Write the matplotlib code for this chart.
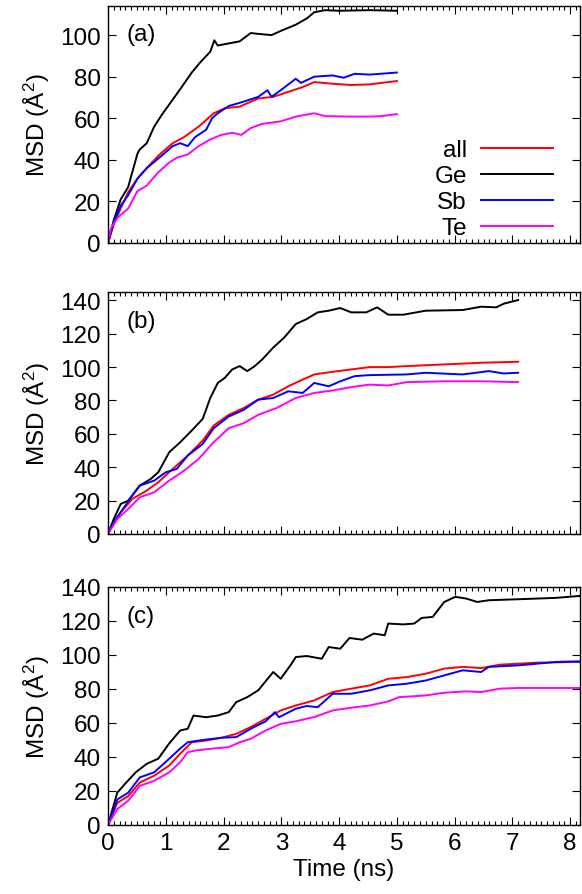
import matplotlib
matplotlib.use("Agg")
import matplotlib.pyplot as plt
from matplotlib.ticker import MultipleLocator

plt.rcParams['font.family'] = ['Liberation Sans', 'DejaVu Sans']
plt.rcParams['mathtext.fontset'] = 'custom'
plt.rcParams['mathtext.rm'] = 'Liberation Sans'
plt.rcParams['mathtext.it'] = 'Liberation Sans:italic'

series_names = ["all", "Ge", "Sb", "Te"]
colors = ["#ff0000", "#000000", "#0000ff", "#ff00ff"]

# ---------------- panel (a) ----------------
a_all_t = [0, 0.1, 0.22, 0.35, 0.51, 0.67, 0.87, 1.12, 1.32, 1.57, 1.83, 2.02, 2.28, 2.6, 2.86, 3.12, 3.37, 3.57, 3.89, 4.21, 4.53, 5.0]
a_all_y = [0, 9, 16.6, 24.5, 31, 36, 42, 48, 51, 56, 62.4, 64.8, 65.6, 69.5, 70.3, 72.7, 75, 77.4, 76.6, 76, 76.3, 77.9]
a_ge_t = [0, 0.1, 0.22, 0.35, 0.51, 0.55, 0.67, 0.8, 0.93, 1.12, 1.25, 1.45, 1.6, 1.77, 1.84, 1.9, 2.09, 2.28, 2.47, 2.6, 2.83, 2.99, 3.25, 3.44, 3.57, 3.76, 4.0, 4.53, 5.0]
a_ge_y = [0, 11, 21, 27, 43, 45, 48, 56, 61.6, 69, 74, 82, 87, 92, 97.5, 95, 96, 97, 101, 100.6, 100, 102, 105, 108, 111, 112, 111.7, 112, 111.7]
a_sb_t = [0, 0.1, 0.22, 0.35, 0.51, 0.67, 0.87, 1.12, 1.25, 1.38, 1.51, 1.7, 1.8, 1.9, 2.09, 2.35, 2.6, 2.76, 2.83, 2.99, 3.25, 3.34, 3.57, 3.89, 4.08, 4.27, 4.53, 5.0]
a_sb_y = [0, 10, 18, 23, 31, 36, 40.6, 46.6, 48, 46.6, 51, 54.5, 60, 62.4, 65.9, 68, 70.3, 73.5, 70.3, 73.5, 79, 77, 80, 80.6, 79.5, 81.4, 81, 82]
a_te_t = [0, 0.05, 0.16, 0.35, 0.51, 0.67, 0.87, 1.06, 1.19, 1.38, 1.57, 1.77, 1.96, 2.15, 2.31, 2.47, 2.67, 2.99, 3.25, 3.57, 3.76, 4.21, 4.53, 4.72, 5.0]
a_te_y = [0, 7, 12, 16.6, 25, 27.6, 34, 38.7, 41, 42.6, 46.6, 49.8, 52, 53, 52, 55.3, 57.3, 58.5, 60.8, 62.4, 61, 60.8, 60.8, 61, 62]

# ---------------- panel (b) ----------------
b_all_t = [0, 0.1, 0.22, 0.42, 0.67, 0.87, 1.12, 1.38, 1.64, 1.83, 2.09, 2.35, 2.6, 2.86, 3.12, 3.37, 3.57, 3.89, 4.21, 4.53, 4.85, 5.17, 5.82, 6.46, 7.1]
b_all_y = [0, 7, 13, 21, 26, 31, 39, 47, 56, 65, 71.4, 75.5, 80.5, 83.5, 88.5, 92.5, 95.6, 97.2, 98.6, 100, 100, 100.6, 101.6, 102.6, 103.2]
b_ge_t = [0, 0.1, 0.22, 0.35, 0.55, 0.74, 0.87, 1.06, 1.25, 1.45, 1.64, 1.77, 1.9, 2.02, 2.15, 2.28, 2.41, 2.54, 2.67, 2.86, 3.05, 3.25, 3.44, 3.63, 3.82, 4.02, 4.21, 4.47, 4.66, 4.85, 5.11, 5.5, 6.14, 6.46, 6.72, 6.85, 7.1]
b_ge_y = [0, 9, 18, 20, 29, 33, 37, 49, 55, 62, 69, 81.5, 90.5, 93.5, 98.6, 100.6, 97.6, 100.6, 104.6, 111.7, 117.7, 125.8, 128.8, 132.8, 133.8, 135.4, 132.8, 132.8, 135.8, 131.4, 131.4, 133.8, 134.2, 136.2, 135.8, 138, 140.2]
b_sb_t = [0, 0.1, 0.22, 0.42, 0.55, 0.8, 1.0, 1.19, 1.38, 1.64, 1.83, 2.09, 2.35, 2.6, 2.86, 3.12, 3.37, 3.57, 3.82, 4.02, 4.27, 4.53, 5.17, 5.5, 6.14, 6.59, 6.85, 7.1]
b_sb_y = [0, 7, 13, 23, 29, 32, 37, 39, 47, 54, 63.4, 70.4, 74.4, 80.5, 81.5, 85.5, 84.5, 90.5, 88.5, 91.5, 94.6, 95.2, 95.6, 96.6, 95.6, 97.6, 96.2, 96.6]
b_te_t = [0, 0.16, 0.35, 0.55, 0.8, 1.06, 1.32, 1.57, 1.83, 2.09, 2.35, 2.6, 2.92, 3.25, 3.57, 3.89, 4.21, 4.53, 4.85, 5.17, 5.82, 6.46, 7.1]
b_te_y = [0, 9, 15, 22, 25, 32, 38, 45, 55, 63.4, 66.4, 71.4, 75.5, 81.5, 84.5, 86, 88, 89.5, 89, 91, 91.5, 91.5, 91]

# ---------------- panel (c) ----------------
c_all_t = [0, 0.16, 0.35, 0.55, 0.8, 1.06, 1.25, 1.45, 1.7, 1.96, 2.22, 2.47, 2.73, 2.99, 3.25, 3.57, 3.89, 4.21, 4.53, 4.85, 5.17, 5.5, 5.82, 6.14, 6.46, 6.78, 7.1, 7.43, 8.18]
c_all_y = [0, 13, 17, 25, 29, 35, 42, 48.7, 49.7, 51.3, 53.6, 57.6, 62.5, 67.4, 70.3, 73.3, 78.2, 80.2, 82.1, 86, 87, 89, 92, 93, 92.3, 94.3, 94.9, 95.5, 95.9]
c_ge_t = [0, 0.16, 0.29, 0.48, 0.67, 0.87, 1.06, 1.25, 1.38, 1.48, 1.7, 1.9, 2.09, 2.22, 2.41, 2.6, 2.86, 2.99, 3.18, 3.25, 3.44, 3.7, 3.82, 4.02, 4.18, 4.4, 4.6, 4.79, 4.85, 5.11, 5.3, 5.43, 5.62, 5.82, 6.01, 6.2, 6.39, 6.59, 7.1, 7.43, 7.75, 8.18]
c_ge_y = [0, 19, 24, 31, 36, 39, 48, 55.6, 56.6, 64.4, 63.4, 64.4, 66.4, 72.3, 75.2, 79.2, 90, 86, 95, 98.8, 99.4, 97.8, 104.7, 103.7, 110, 109, 112.6, 111.6, 118.5, 118, 118.5, 121.8, 122.4, 131.2, 134.2, 133.2, 131.2, 132.2, 132.8, 133.2, 133.6, 134.8]
c_sb_t = [0, 0.16, 0.35, 0.55, 0.8, 1.06, 1.25, 1.38, 1.64, 1.96, 2.22, 2.47, 2.73, 2.89, 2.96, 3.25, 3.44, 3.63, 3.89, 4.21, 4.53, 4.85, 5.17, 5.5, 5.82, 6.14, 6.46, 6.59, 7.1, 7.43, 7.75, 8.18]
c_sb_y = [0, 15, 19, 28, 31, 39, 45, 48.7, 50, 51.3, 51.7, 56.6, 61, 66.4, 63.4, 68.4, 70, 69.3, 77.2, 77.2, 79.2, 82.1, 83.1, 85, 88, 91, 90, 93, 93.9, 94.9, 95.9, 96.3]
c_te_t = [0, 0.16, 0.35, 0.55, 0.8, 1.06, 1.25, 1.38, 1.51, 1.77, 2.09, 2.28, 2.47, 2.73, 2.99, 3.25, 3.57, 3.89, 4.21, 4.53, 4.85, 5.04, 5.5, 5.82, 6.2, 6.46, 6.78, 7.1, 8.18]
c_te_y = [0, 9.4, 14.3, 23, 26, 31, 37, 42.8, 43.8, 44.8, 45.8, 48.7, 50.7, 55.6, 59.5, 61, 63.5, 67.4, 69, 70.3, 72.7, 75.2, 76.2, 77.8, 78.6, 78.2, 80.2, 80.6, 80.6]

panels = [
    ("(a)", [(a_all_t, a_all_y), (a_ge_t, a_ge_y), (a_sb_t, a_sb_y), (a_te_t, a_te_y)], 114, [0, 20, 40, 60, 80, 100]),
    ("(b)", [(b_all_t, b_all_y), (b_ge_t, b_ge_y), (b_sb_t, b_sb_y), (b_te_t, b_te_y)], 145, [0, 20, 40, 60, 80, 100, 120, 140]),
    ("(c)", [(c_all_t, c_all_y), (c_ge_t, c_ge_y), (c_sb_t, c_sb_y), (c_te_t, c_te_y)], 140, [0, 20, 40, 60, 80, 100, 120, 140]),
]

FS = 17.5
W, H = 582, 895
fig = plt.figure(figsize=(W / 100, H / 100), dpi=100)
boxes = [(7, 244), (293, 535), (588, 826)]
left_px, right_px = 108, 580

for i, ((label, data, ymax, yticks), (top, bot)) in enumerate(zip(panels, boxes)):
    ax = fig.add_axes([left_px / W, 1 - bot / H, (right_px - left_px) / W, (bot - top) / H])
    for (t, y), name, c in zip(data, series_names, colors):
        ax.plot(t, y, color=c, lw=1.4, label=name)
    ax.set_xlim(0, 8.17)
    ax.set_ylim(0, ymax)
    ax.set_yticks(yticks)
    ax.xaxis.set_major_locator(MultipleLocator(1))
    ax.xaxis.set_minor_locator(MultipleLocator(0.1))
    ax.tick_params(axis='both', which='both', direction='in', top=True, right=True, labelsize=FS)
    ax.tick_params(axis='both', which='major', length=6, width=0.8, pad=5)
    ax.tick_params(axis='x', which='minor', length=3, width=0.8)
    for s in ax.spines.values():
        s.set_linewidth(1.0)
    ax.set_ylabel(r'MSD (Å$^2$)', fontsize=FS, labelpad=6)
    ax.text(0.04, 0.88, label, transform=ax.transAxes, fontsize=FS, ha='left', va='center')
    if i < 2:
        ax.tick_params(axis='x', labelbottom=False)
    else:
        ax.set_xlabel('Time (ns)', fontsize=FS, labelpad=3)
    if i == 0:
        ax.legend(loc='lower right', bbox_to_anchor=(0.943, 0.015), markerfirst=False, frameon=False,
                  fontsize=FS, handlelength=2.95, handletextpad=0.6, labelspacing=0.17,
                  borderaxespad=0, borderpad=0)

fig.savefig("out.png", dpi=100)
